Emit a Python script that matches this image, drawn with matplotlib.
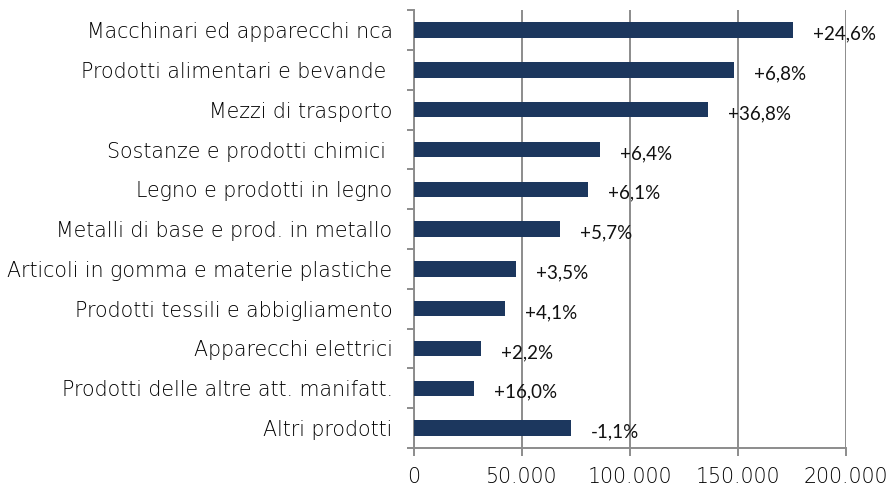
import matplotlib
matplotlib.use("Agg")
import matplotlib.pyplot as plt
from matplotlib.ticker import FixedLocator, FuncFormatter
from matplotlib.transforms import offset_copy

# data (top to bottom)
categories = [
    "Macchinari ed apparecchi nca",
    "Prodotti alimentari e bevande ",
    "Mezzi di trasporto",
    "Sostanze e prodotti chimici ",
    "Legno e prodotti in legno",
    "Metalli di base e prod. in metallo",
    "Articoli in gomma e materie plastiche",
    "Prodotti tessili e abbigliamento",
    "Apparecchi elettrici",
    "Prodotti delle altre att. manifatt.",
    "Altri prodotti",
]
values = [175800, 148300, 136300, 86100, 80400, 67600, 47200, 42300, 31200, 27900, 72700]
changes = ["+24,6%", "+6,8%", "+36,8%", "+6,4%", "+6,1%", "+5,7%",
           "+3,5%", "+4,1%", "+2,2%", "+16,0%", "-1,1%"]
xticks = [0, 50000, 100000, 150000, 200000]

BAR_COLOR = "#1c375e"
GRID_COLOR = "#8c8c8c"
LABEL_FONT = "DejaVu Sans"
VALUE_FONT = "Lato"

fig = plt.figure(figsize=(8.9, 4.86), dpi=100)
ax = fig.add_axes([0.4652, 0.0782, 0.4850, 0.9008])

pos = list(range(len(categories)))
ax.barh(pos, values, height=0.39, color=BAR_COLOR, zorder=3)

ax.set_xlim(0, 200000)
ax.set_ylim(len(categories) - 0.5, -0.5)

# vertical gridlines
ax.xaxis.set_major_locator(FixedLocator(xticks))
ax.xaxis.set_major_formatter(FuncFormatter(lambda v, p: f"{int(v):,}".replace(",", ".")))
ax.grid(axis="x", color=GRID_COLOR, linewidth=1.4, zorder=0)

for side in ["top", "right"]:
    ax.spines[side].set_visible(False)
for side in ["left", "bottom"]:
    ax.spines[side].set_color(GRID_COLOR)
    ax.spines[side].set_linewidth(1.4)

# category labels at bar centres, ticks between categories (Excel style)
ax.set_yticks(pos)
ax.set_yticklabels(categories, family=LABEL_FONT, weight="light", fontsize=14.8, color="#000000")
ax.tick_params(axis="y", which="major", length=0, pad=15.5)
ax.set_yticks([p + 0.5 for p in [-1] + pos], minor=True)
ax.tick_params(axis="y", which="minor", length=5, width=1.4, color=GRID_COLOR, direction="out")

ax.tick_params(axis="x", length=6, width=1.4, color=GRID_COLOR, pad=8)
for lab in ax.get_xticklabels():
    lab.set_family(LABEL_FONT)
    lab.set_weight("light")
    lab.set_fontsize(14.8)
    lab.set_color("#000000")

# percentage change labels
for p, v, txt in zip(pos, values, changes):
    tr = offset_copy(ax.transData, fig=fig, x=20, y=-4, units="dots")
    ax.text(v, p, txt, transform=tr, ha="left", va="center",
            family=VALUE_FONT, fontsize=13.5, color="#111111", zorder=4)

fig.savefig("out.png", dpi=100)
